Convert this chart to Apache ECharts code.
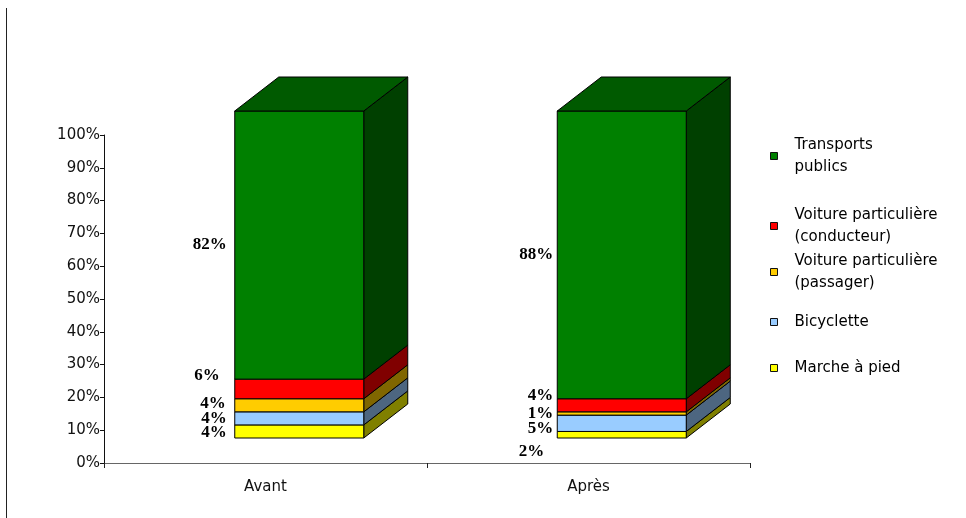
<!DOCTYPE html>
<html>
<head>
<meta charset="utf-8">
<script src="https://cdn.jsdelivr.net/npm/echarts@6/dist/echarts.min.js"></script>
<style>
  html, body { margin: 0; padding: 0; background: #ffffff; }
  #chart { width: 966px; height: 518px; }
</style>
</head>
<body>
<div id="chart"></div>
<script>
// Modal share before / after, stacked to 100 %
const categories = ['Avant', 'Après'];
const modeNames = [
  'Marche à pied',
  'Bicyclette',
  'Voiture particulière (passager)',
  'Voiture particulière (conducteur)',
  'Transports publics'
];
const marche = [4, 2];
const bicyclette = [4, 5];
const passager = [4, 1];
const conducteur = [6, 4];
const transports = [82, 88];
const seriesValues = [marche, bicyclette, passager, conducteur, transports];

// Legend lines (top to bottom) and their two-line captions
const legendOrder = [
  'Transports publics',
  'Voiture particulière (conducteur)',
  'Voiture particulière (passager)',
  'Bicyclette',
  'Marche à pied'
];
const legendCaptions = {
  'Transports publics': 'Transports\npublics',
  'Voiture particulière (conducteur)': 'Voiture particulière\n(conducteur)',
  'Voiture particulière (passager)': 'Voiture particulière\n(passager)',
  'Bicyclette': 'Bicyclette',
  'Marche à pied': 'Marche à pied'
};

// Face colours: front, side, top
const faceColors = [
  { front: '#ffff00', side: '#808000', top: '#b3b300' },
  { front: '#99ccff', side: '#4d6680', top: '#6b8fb3' },
  { front: '#ffcc00', side: '#806600', top: '#b38f00' },
  { front: '#ff0000', side: '#800000', top: '#b30000' },
  { front: '#008000', side: '#004000', top: '#005a00' }
];

// Small nudges for the value labels [dx, dy] per series, per category
const labelNudge = [
  [[0, 1], [-5, 17]],
  [[0, 0], [4, 5]],
  [[-1, -2], [4, 0]],
  [[-7, -13], [4, -10]],
  [[0, 0], [4, 0]]
];

const BAR_W = 129;      // front face width
const DEPTH_X = 44;     // oblique depth of the boxes
const DEPTH_Y = 34;

// Cumulative stacking
const stacked = seriesValues.map(() => []);
categories.forEach((c, ci) => {
  let acc = 0;
  seriesValues.forEach((vals, si) => {
    stacked[si].push([ci, acc, acc + vals[ci]]);
    acc += vals[ci];
  });
});

function makeRenderer(si) {
  const col = faceColors[si];
  const isTop = si === seriesValues.length - 1;
  return function (params, api) {
    const ci = api.value(0);
    const lo = api.value(1);
    const hi = api.value(2);
    const pLo = api.coord([ci, lo]);
    const pHi = api.coord([ci, hi]);
    const x0 = pLo[0] - BAR_W / 2;
    const x1 = x0 + BAR_W;
    const yB = pLo[1];
    const yT = pHi[1];
    const stroke = { stroke: '#000', lineWidth: 1, lineJoin: 'round' };
    const children = [
      {
        type: 'polygon',
        shape: { points: [[x1, yB], [x1 + DEPTH_X, yB - DEPTH_Y], [x1 + DEPTH_X, yT - DEPTH_Y], [x1, yT]] },
        style: Object.assign({ fill: col.side }, stroke)
      },
      {
        type: 'rect',
        shape: { x: x0, y: yT, width: BAR_W, height: yB - yT },
        style: Object.assign({ fill: col.front }, stroke)
      }
    ];
    if (isTop) {
      children.push({
        type: 'polygon',
        shape: { points: [[x0, yT], [x0 + DEPTH_X, yT - DEPTH_Y], [x1 + DEPTH_X, yT - DEPTH_Y], [x1, yT]] },
        style: Object.assign({ fill: col.top }, stroke)
      });
    }
    const nd = labelNudge[si][ci];
    children.push({
      type: 'text',
      style: {
        text: seriesValues[si][ci] + '%',
        x: x0 - 8 + nd[0],
        y: (yB + yT) / 2 + nd[1],
        align: 'right',
        verticalAlign: 'middle',
        font: 'bold 17px "Liberation Serif", "Times New Roman", serif',
        fill: '#000'
      }
    });
    return { type: 'group', children: children };
  };
}

const series = seriesValues.map((vals, si) => ({
  type: 'custom',
  name: modeNames[si],
  xAxisIndex: 1,
  yAxisIndex: 1,
  coordinateSystem: 'cartesian2d',
  itemStyle: { color: faceColors[si].front },
  encode: { x: 0, y: [1, 2] },
  data: stacked[si],
  renderItem: makeRenderer(si),
  animation: false
}));

// Legend entries placed one by one (centre y of each entry)
const legendCentres = [156, 226, 272, 322, 368];
const legends = legendOrder.map((name, i) => {
  const twoLines = legendCaptions[name].indexOf('\n') >= 0;
  const h = twoLines ? 44 : 22;
  return {
    data: [{ name: name, icon: 'rect' }],
    left: 770,
    top: legendCentres[i] - h / 2,
    orient: 'vertical',
    padding: 0,
    itemWidth: 7,
    itemHeight: 7,
    itemStyle: { borderColor: '#111', borderWidth: 1 },
    formatter: n => legendCaptions[n],
    textStyle: {
      fontFamily: 'DejaVu Sans',
      fontSize: 15,
      lineHeight: 22,
      color: '#000',
      padding: [0, 0, 0, 12]
    },
    selectedMode: false
  };
});

const chart = echarts.init(document.getElementById('chart'), null, { renderer: 'canvas' });
chart.setOption({
  backgroundColor: '#ffffff',
  animation: false,
  grid: [
    { left: 104, right: 216, top: 135, bottom: 55 },
    { left: 138, right: 183, top: 111, bottom: 80 }
  ],
  xAxis: [
    {
      type: 'category',
      gridIndex: 0,
      data: categories,
      boundaryGap: true,
      axisLine: { show: true, lineStyle: { color: '#666', width: 1 } },
      axisTick: { show: true, length: 5, alignWithLabel: false, lineStyle: { color: '#222' } },
      axisLabel: { margin: 17, fontFamily: 'DejaVu Sans', fontSize: 15, color: '#111' }
    },
    { type: 'category', gridIndex: 1, data: categories, show: false }
  ],
  yAxis: [
    {
      type: 'value',
      gridIndex: 0,
      min: 0,
      max: 100,
      interval: 10,
      axisLine: { show: true, lineStyle: { color: '#111', width: 1 } },
      axisTick: { show: true, length: 4, lineStyle: { color: '#111' } },
      splitLine: { show: false },
      axisLabel: { formatter: '{value}%', margin: 4, fontFamily: 'DejaVu Sans', fontSize: 15, color: '#111' }
    },
    { type: 'value', gridIndex: 1, min: 0, max: 100, show: false, splitLine: { show: false } }
  ],
  legend: legends,
  graphic: [
    {
      type: 'line',
      shape: { x1: 6.5, y1: 8, x2: 6.5, y2: 518 },
      style: { stroke: '#222', lineWidth: 1 },
      silent: true
    }
  ],
  series: series
});
</script>
</body>
</html>
